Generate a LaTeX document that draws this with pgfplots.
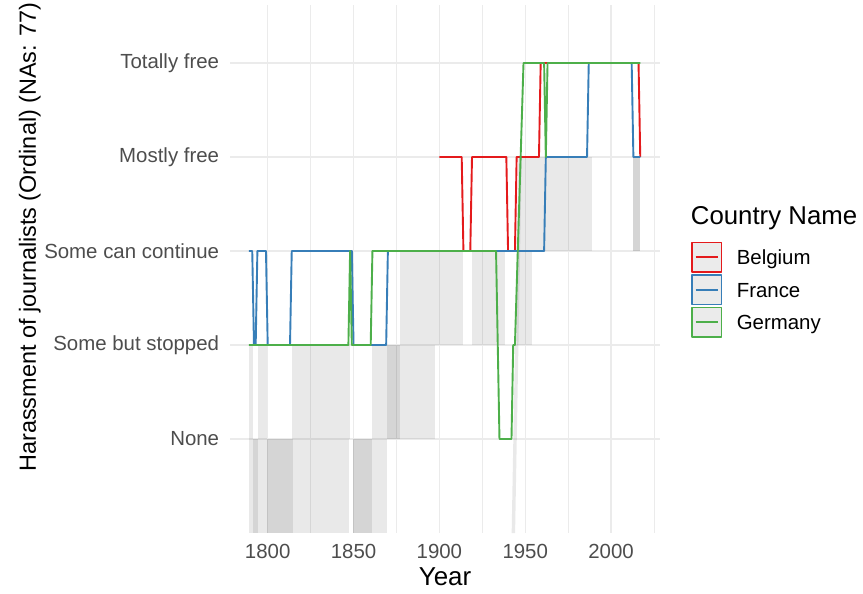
\documentclass[border=0pt]{standalone}
\usepackage{fontspec}
\setmainfont{Liberation Sans}
\usepackage{pgfplots}
\pgfplotsset{compat=1.18}
\definecolor{cbel}{HTML}{E41A1C}
\definecolor{cfra}{HTML}{377EB8}
\definecolor{cger}{HTML}{4DAF4A}
\definecolor{gridc}{RGB}{235,235,235}
\definecolor{tickc}{RGB}{77,77,77}
\definecolor{keyfill}{RGB}{235,235,235}
\pgfplotsset{keyimg/.style={legend image code/.code={
    \draw[draw=#1, line width=1.6bp, fill=keyfill] (0bp,-14.75bp) rectangle (29.5bp,14.75bp);
    \draw[draw=#1, line width=2bp] (3.5bp,0bp) -- (26bp,0bp);
}}}
\begin{document}
\begin{tikzpicture}
\begin{axis}[
  name=ax,
  scale only axis, width=430bp, height=528bp,
  xmin=1778.04, xmax=2028.5, ymin=-1, ymax=4.617,
  clip=false,
  axis line style={draw=none},
  major tick length=0pt, minor tick length=0pt,
  /pgf/number format/1000 sep={},
  /pgf/number format/assume math mode=true,
  xtick={1800,1850,1900,1950,2000},
  minor xtick={1825,1875,1925,1975,2025},
  ytick={0,1,2,3,4},
  yticklabels={None,Some but stopped,Some can continue,Mostly free,Totally free},
  grid=both,
  major grid style={draw=gridc, line width=1.3bp},
  minor grid style={draw=gridc, line width=0.65bp},
  xticklabel style={anchor=north, inner sep=0pt, yshift=-11bp, font=\fontsize{20.5}{24}\selectfont, text=tickc},
  yticklabel style={anchor=east, inner sep=0pt, xshift=-10.7bp, font=\fontsize{20.5}{24}\selectfont, text=tickc},
  xlabel={Year},
  xlabel style={at={(axis description cs:0.5,-0.0985)}, anchor=base, inner sep=0pt, font=\fontsize{26}{30}\selectfont},
  ylabel={Harassment of journalists (Ordinal) (NAs: 77)},
  ylabel style={at={(axis description cs:-0.4512,0.5606)}, anchor=base, inner sep=0pt, font=\fontsize{23.5}{28}\selectfont},
  legend style={at={(axis description cs:1.0730,0.5520)}, anchor=north west, draw=none, fill=none, inner sep=0pt, outer sep=0pt, row sep=1.4bp, font=\fontsize{20.5}{24}\selectfont, nodes={inner sep=0pt, text height=15.6bp, text depth=0bp}, /tikz/every odd column/.append style={column sep=14.3bp}},
  legend cell align=left,
  rib/.style={draw=none, fill=black, fill opacity=0.085, forget plot},
]
% ribbons (interval bands)
\addplot[rib] coordinates {(1789,-1) (1847.3,-1) (1847.3,0) (1789,0)} -- cycle;
\addplot[rib] coordinates {(1791.6,-1) (1794.4,-1) (1794.4,0) (1791.6,0)} -- cycle;
\addplot[rib] coordinates {(1799.4,-1) (1814.5,-1) (1814.5,0) (1799.4,0)} -- cycle;
\addplot[rib] coordinates {(1849.5,-1) (1860.6,-1) (1860.6,0) (1849.5,0)} -- cycle;
\addplot[rib] coordinates {(1849.5,-1) (1869.3,-1) (1869.3,0) (1849.5,0)} -- cycle;
\addplot[rib] coordinates {(1789,0) (1791.6,0) (1791.6,1) (1789,1)} -- cycle;
\addplot[rib] coordinates {(1794.4,0) (1799.6,0) (1799.6,1) (1794.4,1)} -- cycle;
\addplot[rib] coordinates {(1814.4,0) (1848.2,0) (1848.2,1) (1814.4,1)} -- cycle;
\addplot[rib] coordinates {(1860.6,0) (1877,0) (1877,1) (1860.6,1)} -- cycle;
\addplot[rib] coordinates {(1869.3,0) (1897.5,0) (1897.5,1) (1869.3,1)} -- cycle;
\addplot[rib] coordinates {(1877,1) (1913.5,1) (1913.5,2) (1877,2)} -- cycle;
\addplot[rib] coordinates {(1919,1) (1938.5,1) (1938.5,2) (1919,2)} -- cycle;
\addplot[rib] coordinates {(1945,1) (1954,1) (1954,2) (1945,2)} -- cycle;
\addplot[rib] coordinates {(1946.3,2) (1989,2) (1989,3) (1946.3,3)} -- cycle;
\addplot[rib] coordinates {(2012.6,2) (2017,2) (2017,3) (2012.6,3)} -- cycle;
\addplot[rib] coordinates {(2012.6,2) (2017,2) (2017,3) (2012.6,3)} -- cycle;
\addplot[rib] coordinates {(1942.1,-1) (1944.1,-1) (1948,3) (1946,3)} -- cycle;
% lines
\addplot[cbel, line width=1.9bp, line join=round, keyimg=cbel] coordinates {
(1900,3)(1913,3)(1914,2)(1918,2)(1919,3)(1939,3)(1940,2)(1944,2)(1945,3)(1958,3)(1959,4)(2016,4)(2017,3)};
\addlegendentry{Belgium}
\addplot[cfra, line width=1.9bp, line join=round, keyimg=cfra] coordinates {
(1789,2)(1791,2)(1792,1)(1793,1)(1794,2)(1799,2)(1800,1)(1813,1)(1814,2)(1849,2)(1850,1)(1869,1)(1870,2)(1961,2)(1962,3)(1986,3)(1987,4)(2012,4)(2013,3)(2017,3)};
\addlegendentry{France}
\addplot[cger, line width=1.9bp, line join=round, keyimg=cger] coordinates {
(1789,1)(1847,1)(1848,2)(1849,1)(1860,1)(1861,2)(1933,2)(1935,0)(1942,0)(1943,1)(1944,1)(1949,4)(1961,4)(1962,3)(1963,4)(2017,4)};
\addlegendentry{Germany}
\node[anchor=base west, inner sep=0pt, font=\fontsize{25.9}{30}\selectfont] at (axis description cs:1.0714,0.5847) {Country Name};
\end{axis}
\path[use as bounding box] ([xshift=-230bp,yshift=-61bp]ax.south west) rectangle ([xshift=203bp,yshift=5bp]ax.north east);
\end{tikzpicture}
\end{document}
